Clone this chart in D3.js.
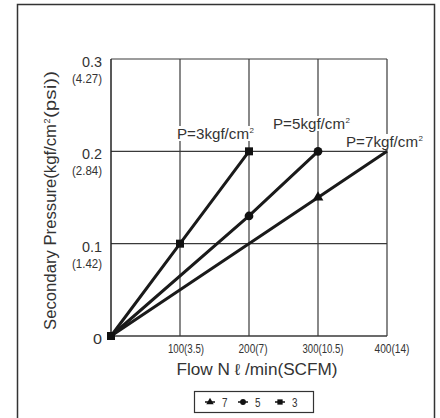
<!DOCTYPE html>
<html><head><meta charset="utf-8">
<script src="https://cdn.jsdelivr.net/npm/d3@7"></script>
<style>body{margin:0;background:#fff}svg{display:block}</style>
</head><body>
<svg id="c" width="440" height="418"></svg>
<script>
const xTicks = [100, 200, 300, 400];
const xTickLabels = ["100(3.5)", "200(7)", "300(10.5)", "400(14)"];
const yTicks = [0, 0.1, 0.2, 0.3];
const yTickLabels = ["0", "0.1", "0.2", "0.3"];
const yTickSub = ["", "(1.42)", "(2.84)", "(4.27)"];
const seriesNames = ["7", "5", "3"];
const flow7 = [0, 300, 400];
const pres7 = [0, 0.15, 0.2];
const flow5 = [0, 200, 300];
const pres5 = [0, 0.13, 0.2];
const flow3 = [0, 100, 200];
const pres3 = [0, 0.1, 0.2];
const seriesLabels = ["P=7kgf/cm", "P=5kgf/cm", "P=3kgf/cm"];

const svg = d3.select("#c");
const F = "'Liberation Sans',Arial,sans-serif";
const x = d3.scaleLinear().domain([0, 400]).range([111, 387]);
const y = d3.scaleLinear().domain([0, 0.3]).range([336, 59]);

function txt(parent, s, px, py, size, anchor, len) {
  const t = parent.append("text").attr("x", px).attr("y", py).attr("text-anchor", anchor || "start")
    .attr("font-family", F).attr("font-size", size).attr("fill", "#333").text(s);
  if (len) t.attr("textLength", len).attr("lengthAdjust", "spacingAndGlyphs");
  return t;
}

// outer frame
svg.append("path").attr("d", "M17.5,418 V4.5 H434.5 V418").attr("fill", "none").attr("stroke", "#333").attr("stroke-width", 1.5);

// grid
const g = svg.append("g");
xTicks.forEach(t => g.append("line").attr("x1", x(t)).attr("x2", x(t)).attr("y1", y(0.3)).attr("y2", y(0)).attr("stroke", "#3a3a3a").attr("stroke-width", 1.2));
yTicks.forEach(t => g.append("line").attr("x1", x(0)).attr("x2", x(400)).attr("y1", y(t)).attr("y2", y(t)).attr("stroke", "#3a3a3a").attr("stroke-width", t === 0 ? 1.6 : 1.2));
g.append("line").attr("x1", x(0)).attr("x2", x(0)).attr("y1", y(0.3)).attr("y2", y(0)).attr("stroke", "#222").attr("stroke-width", 1.5);

// y tick labels
const mainW = { "0": 9, "0.1": 20, "0.2": 20, "0.3": 20 };
yTicks.forEach((t, i) => {
  txt(svg, yTickLabels[i], 102, y(t) + 8, 15, "end", mainW[yTickLabels[i]]);
  if (yTickSub[i]) txt(svg, yTickSub[i], 102, y(t) + 24, 13, "end", 30);
});
// x tick labels
const xW = [36, 29, 41, 35];
xTicks.forEach((t, i) => {
  txt(svg, xTickLabels[i], x(t) + (i === 0 ? 6 : (i === 1 ? 4 : 5)), 353, 12.5, "middle", xW[i]);
});

// axis titles
txt(svg, "Flow N \u2113 /min(SCFM)", 257, 375, 16, "middle", 161);
const ytg = svg.append("g").attr("transform", "translate(56,199) rotate(-90)");
txt(ytg, "Secondary Pressure(kgf/cm", -131, 0, 16, "start", 206);
txt(ytg, "2", 75.5, -6, 9, "start");
txt(ytg, "(psi))", 81, 0, 16, "start", 47);

// series labels with white background
const labelPos = [[346, 147], [273, 129], [177, 139]];
seriesLabels.forEach((s, i) => {
  const [lx, ly] = labelPos[i];
  svg.append("rect").attr("x", lx - 1).attr("y", ly - 13).attr("width", 79).attr("height", 15).attr("fill", "#fff");
  txt(svg, s, lx, ly, 15, "start", 72);
  txt(svg, "2", lx + 72.5, ly - 6, 8, "start");
});

// lines & markers
const line = d3.line().x(d => x(d[0])).y(d => y(d[1]));
const data = [
  { pts: d3.zip(flow7, pres7), sym: d3.symbolTriangle, marks: [1] },
  { pts: d3.zip(flow5, pres5), sym: d3.symbolCircle, marks: [1, 2] },
  { pts: d3.zip(flow3, pres3), sym: d3.symbolSquare, marks: [0, 1, 2] }
];
data.forEach(s => {
  svg.append("path").attr("d", line(s.pts)).attr("fill", "none").attr("stroke", "#1a1a1a").attr("stroke-width", 3);
});
data.forEach(s => {
  s.marks.forEach(k => {
    const p = s.pts[k];
    const sz = s.sym === d3.symbolCircle ? 60 : (s.sym === d3.symbolSquare ? 64 : 50);
    svg.append("path").attr("d", d3.symbol().type(s.sym).size(sz)())
      .attr("transform", `translate(${x(p[0])},${y(p[1])})`).attr("fill", "#111");
  });
});

// legend
svg.append("rect").attr("x", 194.5).attr("y", 391.5).attr("width", 119).attr("height", 21).attr("fill", "#fff").attr("stroke", "#333").attr("stroke-width", 1.2);
const legX = [205, 238, 275];
data.forEach((s, i) => {
  svg.append("line").attr("x1", legX[i]).attr("x2", legX[i] + 10).attr("y1", 402).attr("y2", 402).attr("stroke", "#111").attr("stroke-width", 1.5);
  const sz = s.sym === d3.symbolCircle ? 26 : (s.sym === d3.symbolSquare ? 28 : 24);
  svg.append("path").attr("d", d3.symbol().type(s.sym).size(sz)()).attr("transform", `translate(${legX[i] + 5},402)`).attr("fill", "#111");
  txt(svg, seriesNames[i], legX[i] + 17, 406.5, 12, "start", 5.5);
});
</script>
</body></html>
